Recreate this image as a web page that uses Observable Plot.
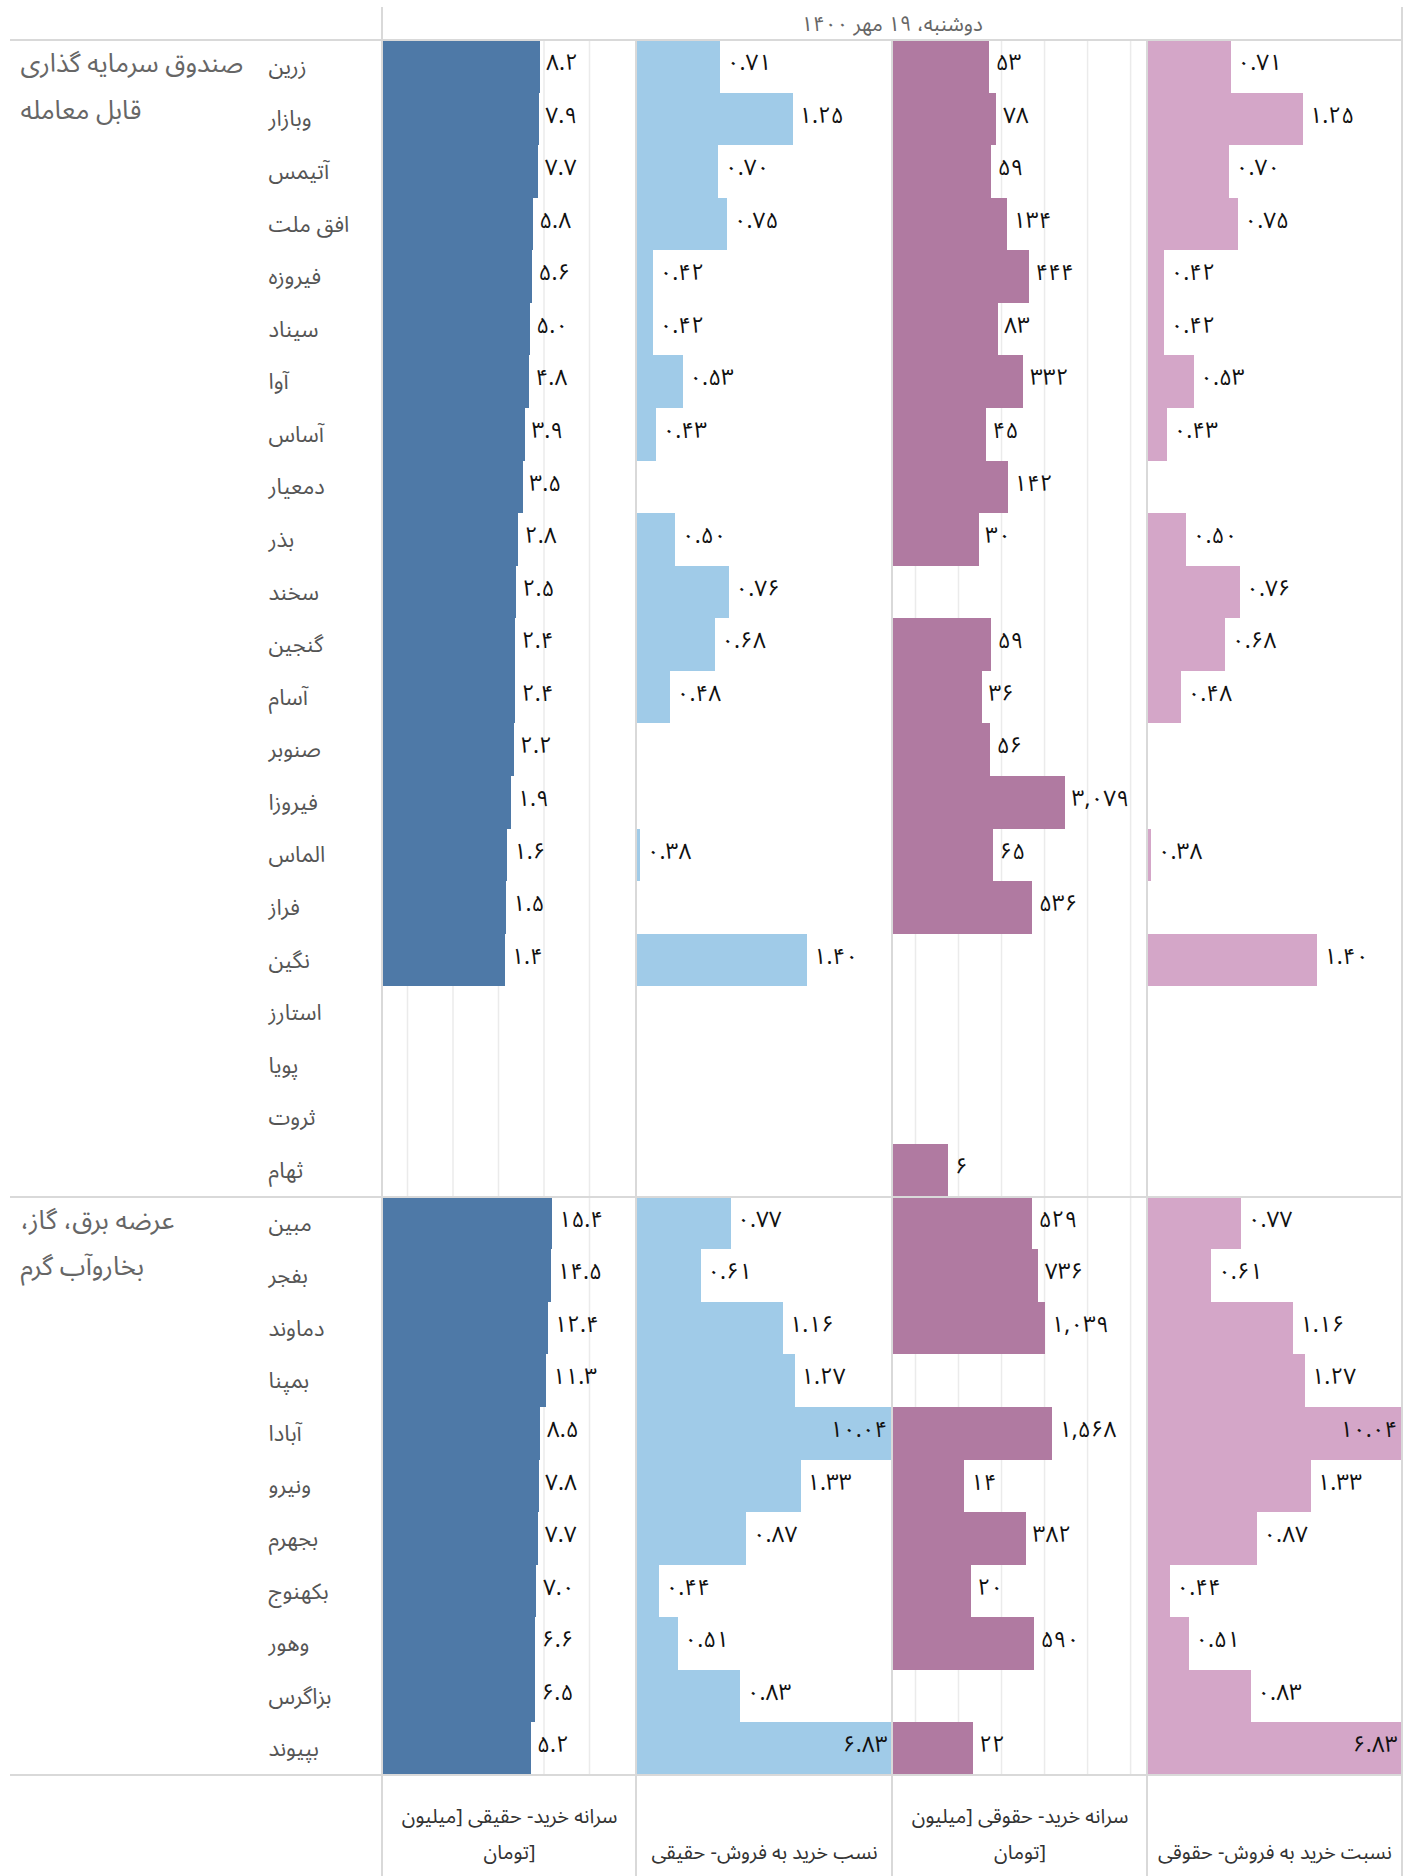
<!DOCTYPE html>
<html><head><meta charset="utf-8">
<script src="https://cdn.jsdelivr.net/npm/d3@7"></script>
<script src="https://cdn.jsdelivr.net/npm/@observablehq/plot@0.6"></script>
<style>
body{margin:0;background:#fff;}
#chart{position:relative;width:1414px;height:1876px;font-family:"Noto Sans Arabic","Noto Naskh Arabic","DejaVu Sans",sans-serif;overflow:hidden;}
#chart svg{position:absolute;top:0;overflow:visible;}
.hl{position:absolute;height:2px;background:#d9d9d9;z-index:5;}
.vl{position:absolute;width:2px;background:#d9d9d9;z-index:5;}
#date{position:absolute;top:3px;left:382px;width:1020px;text-align:center;font-size:20.5px;color:#666;}
</style></head><body><div id="chart"><div id="date"></div></div>
<script>
// ---------- data ----------
const dateTitle = "دوشنبه، ۱۹ مهر ۱۴۰۰";
const groups = ["صندوق سرمایه گذاری\nقابل معامله", "عرضه برق، گاز،\nبخاروآب گرم"];
const names1 = ["زرین","وبازار","آتیمس","افق ملت","فیروزه","سیناد","آوا","آساس","دمعیار","بذر","سخند","گنجین","آسام","صنوبر","فیروزا","الماس","فراز","نگین","استارز","پویا","ثروت","ثهام"];
const names2 = ["مبین","بفجر","دماوند","بمپنا","آبادا","ونیرو","بجهرم","بکهنوج","وهور","بزاگرس","بپیوند"];
const realPerCapita1 = [8.2,7.9,7.7,5.8,5.6,5.0,4.8,3.9,3.5,2.8,2.5,2.4,2.4,2.2,1.9,1.6,1.5,1.4,null,null,null,null];
const realPerCapita2 = [15.4,14.5,12.4,11.3,8.5,7.8,7.7,7.0,6.6,6.5,5.2];
const realRatio1 = [0.71,1.25,0.70,0.75,0.42,0.42,0.53,0.43,null,0.50,0.76,0.68,0.48,null,null,0.38,null,1.40,null,null,null,null];
const realRatio2 = [0.77,0.61,1.16,1.27,10.04,1.33,0.87,0.44,0.51,0.83,6.83];
const legalPerCapita1 = [53,78,59,134,444,83,332,45,142,30,null,59,36,56,3079,65,536,null,null,null,null,6];
const legalPerCapita2 = [529,736,1039,null,1568,14,382,20,590,null,22];
const legalRatio1 = [0.71,1.25,0.70,0.75,0.42,0.42,0.53,0.43,null,0.50,0.76,0.68,0.48,null,null,0.38,null,1.40,null,null,null,null];
const legalRatio2 = [0.77,0.61,1.16,1.27,10.04,1.33,0.87,0.44,0.51,0.83,6.83];
const columnTitles = ["سرانه خرید- حقیقی [میلیون\nتومان]","نسب خرید به فروش- حقیقی","سرانه خرید- حقوقی [میلیون\nتومان]","نسبت خرید به فروش- حقوقی"];
const colors = ["#4e79a7","#a0cbe8","#b07aa1","#d4a6c8"];

// ---------- table ----------
const rows = [
  ...names1.map((name,i)=>({name, group:0, rp:realPerCapita1[i], rr:realRatio1[i], lp:legalPerCapita1[i], lr:legalRatio1[i]})),
  ...names2.map((name,i)=>({name, group:1, rp:realPerCapita2[i], rr:realRatio2[i], lp:legalPerCapita2[i], lr:legalRatio2[i]}))
];
const allNames = rows.map(d=>d.name);
const groupHeads = groups.map((label,g)=>({label, first: rows.find(d=>d.group===g).name}));

// ---------- layout ----------
const W = 1414, H = 1876, TOP = 40, BOTTOM = 1775;
const colX = [382, 636, 892, 1147, 1402];
const FONT = '"Noto Sans Arabic","Noto Naskh Arabic","DejaVu Sans",sans-serif';
const RLM = "\u200F";
const fa = s => s.replace(/[0-9]/g, d => "۰۱۲۳۴۵۶۷۸۹"[d]);
const fmts = [d3.format(".1f"), d3.format(".2f"), d3.format(",d"), d3.format(".2f")].map(f => v => fa(f(v)));
const keys = ["rp","rr","lp","lr"];
const domains = [[0.00282, 1079], [0.3679, 2.718], [0.292, 247300], [0.3679, 2.718]];
const grids = [[0.01,0.1,1,10,100], null, [1,10,100,1000,10000,100000], null];

const chart = document.getElementById("chart");
document.getElementById("date").textContent = dateTitle;

const yScale = {type:"band", domain: allNames, padding: 0, round: false, axis: null};

// labels plot
const labelPlot = Plot.plot({
  width: colX[0], height: H, marginTop: TOP, marginBottom: H - BOTTOM, marginLeft: 0, marginRight: 0,
  style: {fontFamily: FONT, background: "transparent"},
  x: {axis: null}, y: yScale,
  marks: [
    Plot.text(rows, {y: "name", text: "name", frameAnchor: "left", dx: 268, dy: 0, textAnchor: "start", fill: "#555", fontSize: 22}),
    Plot.text(groupHeads, {y: "first", text: d => d.label.split("\n").map(s => s + RLM).join("\n"), frameAnchor: "left", dx: 20, textAnchor: "start", lineAnchor: "top", dy: -28, lineHeight: 1.8, fill: "#666", fontSize: 26})
  ]
});
labelPlot.style.left = "0px";
chart.appendChild(labelPlot);

const TITLE_DY = 83, TITLE_STEP = 36;

keys.forEach((key, c) => {
  const data = rows.filter(d => d[key] != null);
  const [lo, hi] = domains[c];
  const f = fmts[c];
  const titleLines = columnTitles[c].split("\n");
  const p = Plot.plot({
    width: colX[c+1] - colX[c], height: H, marginTop: TOP, marginBottom: H - BOTTOM, marginLeft: 0, marginRight: 0,
    style: {fontFamily: FONT, background: "transparent"},
    x: {type: "log", domain: domains[c], clamp: true, axis: null},
    y: yScale,
    marks: [
      grids[c] ? Plot.gridX(grids[c], {stroke: "#ebebeb", strokeOpacity: 1, strokeWidth: 1.5}) : null,
      Plot.barX(data, {y: "name", x1: lo, x2: key, fill: colors[c], shapeRendering: "crispEdges"}),
      Plot.text(data.filter(d => d[key] <= hi), {y: "name", x: key, text: d => f(d[key]), textAnchor: "start", dx: 6, dy: -4, fill: "#111", fontSize: 22.5}),
      Plot.text(data.filter(d => d[key] > hi), {y: "name", x: key, text: d => f(d[key]), textAnchor: "end", dx: -5, dy: -4, fill: "#111", fontSize: 22.5}),
      ...titleLines.map((t, i) => Plot.text([t], {frameAnchor: "bottom", lineAnchor: "bottom", dy: TITLE_DY - (titleLines.length - 1 - i) * TITLE_STEP, fill: "#333", fontSize: 20}))
    ]
  });
  p.style.left = colX[c] + "px";
  chart.appendChild(p);
});

// frame lines
function line(cls, l, t, len) {
  const d = document.createElement("div");
  d.className = cls;
  d.style.left = l + "px"; d.style.top = t + "px";
  if (cls === "hl") d.style.width = len + "px"; else d.style.height = len + "px";
  chart.appendChild(d);
}
const rowH = (BOTTOM - TOP) / allNames.length;
line("hl", 10, TOP - 1, colX[4] - 10);
line("hl", 10, TOP + names1.length * rowH - 1, colX[4] - 10);
line("hl", 10, BOTTOM - 1, colX[4] - 10);
line("vl", colX[0] - 1, 7, H - 7);
line("vl", colX[4] - 1, 7, H - 7);
[1,2,3].forEach(i => line("vl", colX[i] - 1, TOP, H - TOP));
</script></body></html>
